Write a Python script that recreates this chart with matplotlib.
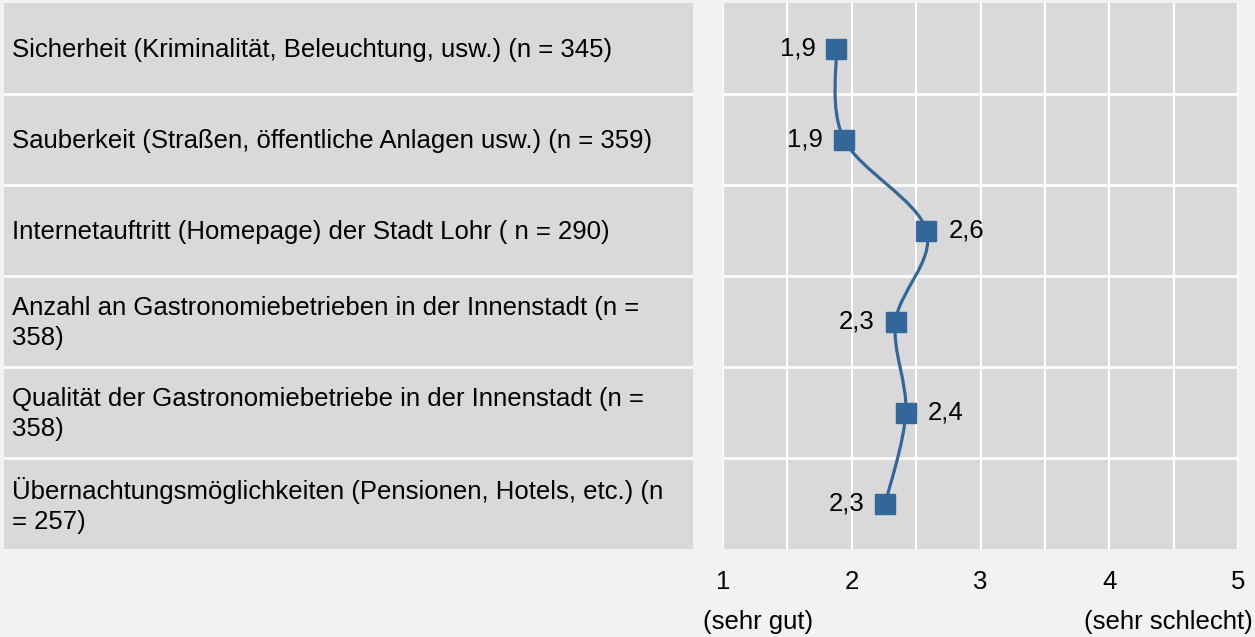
import numpy as np
import matplotlib
matplotlib.use("Agg")
import matplotlib.pyplot as plt
from matplotlib.path import Path
from matplotlib.patches import PathPatch

plt.rcParams['font.family'] = ['Liberation Sans', 'DejaVu Sans']

# data
categories = [
    "Sicherheit (Kriminalität, Beleuchtung, usw.) (n = 345)",
    "Sauberkeit (Straßen, öffentliche Anlagen usw.) (n = 359)",
    "Internetauftritt (Homepage) der Stadt Lohr ( n = 290)",
    "Anzahl an Gastronomiebetrieben in der Innenstadt (n =\n358)",
    "Qualität der Gastronomiebetriebe in der Innenstadt (n =\n358)",
    "Übernachtungsmöglichkeiten (Pensionen, Hotels, etc.) (n\n= 257)",
]
values = [1.88, 1.94, 2.58, 2.34, 2.42, 2.26]
label_side = ['left', 'left', 'right', 'left', 'right', 'left']
x_ticks = [1, 2, 3, 4, 5]

W, H = 1255, 637
fig = plt.figure(figsize=(W / 100, H / 100), dpi=100, facecolor='#f2f2f2')

def px_axes(x0, y0, x1, y1):
    return fig.add_axes([x0 / W, 1 - y1 / H, (x1 - x0) / W, (y1 - y0) / H])

n = len(categories)
bg = '#d9d9d9'
blue = '#336699'
fs = 18.5

# left label panel
axl = px_axes(4, 3, 693, 549)
axl.set_facecolor(bg)
axl.set_xlim(0, 1)
axl.set_ylim(n, 0)
for s in axl.spines.values():
    s.set_visible(False)
axl.set_xticks([])
axl.set_yticks([])
for i in range(1, n):
    axl.axhline(i, color='white', lw=2)
for i, c in enumerate(categories):
    axl.text(8 / 689, i + 0.52, c, ha='left', va='center', fontsize=fs,
             linespacing=1.32)

# right plot
ax = px_axes(723, 3, 1238, 549)
ax.set_facecolor(bg)
ax.set_xlim(1, 5)
ax.set_ylim(n, 0)
for s in ax.spines.values():
    s.set_visible(False)
for xv in np.arange(1, 5.01, 0.5):
    ax.axvline(xv, color='white', lw=1.5, zorder=1)
for i in range(1, n):
    ax.axhline(i, color='white', lw=2, zorder=1)
ax.set_yticks([])
ax.set_xticks(x_ticks)
ax.set_xticklabels([str(t) for t in x_ticks], fontsize=fs)
ax.tick_params(axis='x', length=0, pad=15)

ys = np.arange(n) + 0.5
xs = np.array(values)

# smooth line through points (Catmull-Rom -> cubic Bezier)
pts = np.column_stack([xs, ys])
verts = [pts[0]]
codes = [Path.MOVETO]
for i in range(n - 1):
    p0 = pts[i - 1] if i > 0 else pts[i]
    p1 = pts[i]
    p2 = pts[i + 1]
    p3 = pts[i + 2] if i + 2 < n else pts[i + 1]
    c1 = p1 + (p2 - p0) / 6
    c2 = p2 - (p3 - p1) / 6
    verts += [c1, c2, p2]
    codes += [Path.CURVE4] * 3
ax.add_patch(PathPatch(Path(verts, codes), fc='none', ec=blue, lw=2.3, zorder=3))
ax.plot(xs, ys, ls='none', marker='s', ms=14, color=blue, zorder=4)

for x, y, side in zip(xs, ys, label_side):
    lab = f"{x:.1f}".replace('.', ',')
    off = -15 if side == 'left' else 16
    ax.annotate(lab, (x, y), xytext=(off, 0), textcoords='offset points',
                ha='right' if side == 'left' else 'left', va='center',
                fontsize=fs)

fig.text(703 / W, 1 - 622 / H, "(sehr gut)", ha='left', va='center', fontsize=fs)
fig.text(1253 / W, 1 - 622 / H, "(sehr schlecht)", ha='right', va='center', fontsize=fs)

fig.savefig('out.png', dpi=100, facecolor=fig.get_facecolor())
